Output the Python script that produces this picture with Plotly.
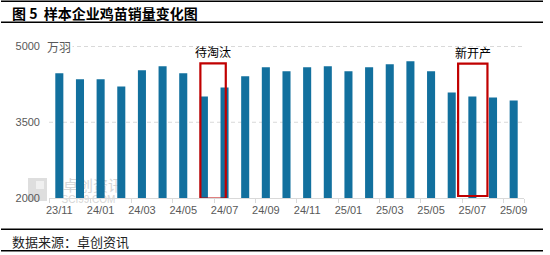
import plotly.graph_objects as go

months = ["23/11", "23/12", "24/01", "24/02", "24/03", "24/04", "24/05", "24/06",
          "24/07", "24/08", "24/09", "24/10", "24/11", "24/12", "25/01", "25/02",
          "25/03", "25/04", "25/05", "25/06", "25/07", "25/08", "25/09"]
sales = [4470, 4350, 4350, 4210, 4530, 4610, 4470, 4010, 4190, 4410, 4590, 4510,
         4590, 4610, 4510, 4590, 4650, 4710, 4510, 4090, 4010, 3990, 3930]
tick_labels = months[::2]
y_ticks = [2000, 3500, 5000]

WIDTH, HEIGHT = 550, 255
ML, MR, MT, MB = 49, 26, 46, 57
PW = WIDTH - ML - MR
PH = HEIGHT - MT - MB
Y0, Y1 = 2000, 5010


def px_x(px):
    return (px - ML) / PW


def px_y(py):
    return (HEIGHT - MB - py) / PH


BAR = "#12709E"
RED = "#C00000"
GREY = "#595959"
GRID = "#D9D9D9"
CJK = "Noto Sans CJK SC"

fig = go.Figure()
fig.add_trace(go.Bar(x=months, y=sales, marker=dict(color=BAR, line=dict(width=0)),
                     hoverinfo="skip"))

shapes = []
# dashed gridlines (drawn below bars)
for v in y_ticks[1:]:
    shapes.append(dict(type="line", xref="paper", yref="y", layer="below",
                       x0=0, x1=1, y0=v, y1=v,
                       line=dict(color=GRID, width=1, dash="4px,3px")))
# frame lines
for py in (1.3, 22.3, 229.3, 250.7):
    shapes.append(dict(type="line", xref="paper", yref="paper",
                       x0=px_x(1), x1=px_x(543), y0=px_y(py), y1=px_y(py),
                       line=dict(color="black", width=1.5)))
# highlight boxes
shapes.append(dict(type="rect", xref="x", yref="y", x0=6.83, x1=8.06, y0=1990, y1=4667,
                   line=dict(color=RED, width=2.2)))
shapes.append(dict(type="rect", xref="x", yref="y", x0=19.31, x1=20.73, y0=2040, y1=4661,
                   line=dict(color=RED, width=2.2)))
# watermark
shapes.append(dict(type="rect", xref="paper", yref="paper", layer="below",
                   x0=px_x(28), x1=px_x(47), y0=px_y(201), y1=px_y(178),
                   fillcolor="#DEDEDE", line=dict(width=0)))
shapes.append(dict(type="rect", xref="paper", yref="paper", layer="below",
                   x0=px_x(36), x1=px_x(44), y0=px_y(189), y1=px_y(181),
                   fillcolor="#F0F0F0", line=dict(width=0)))
shapes.append(dict(type="rect", xref="paper", yref="paper", layer="below",
                   x0=px_x(58), x1=px_x(128), y0=px_y(195), y1=px_y(178),
                   fillcolor="rgba(0,0,0,0)", line=dict(width=0),
                   label=dict(text="卓创资讯", font=dict(family=CJK, size=15, color="#D6D6D6"))))
shapes.append(dict(type="rect", xref="paper", yref="paper", layer="below",
                   x0=px_x(55), x1=px_x(122), y0=px_y(204), y1=px_y(193),
                   fillcolor="rgba(0,0,0,0)", line=dict(width=0),
                   label=dict(text="SCI99.COM", font=dict(family="Liberation Sans", size=10, color="#D6D6D6"))))

annotations = [
    dict(text="<b>图 5  样本企业鸡苗销量变化图</b>", xref="paper", yref="paper",
         x=px_x(10), y=px_y(13.5), xanchor="left", yanchor="middle", showarrow=False,
         font=dict(family=CJK, size=14, color="black")),
    dict(text="数据来源：卓创资讯", xref="paper", yref="paper",
         x=px_x(10), y=px_y(241.5), xanchor="left", yanchor="middle", showarrow=False,
         font=dict(family=CJK, size=13, color="#222222")),
    dict(text="万羽", xref="paper", yref="y", x=px_x(58.5), y=5000,
         xanchor="center", yanchor="middle", showarrow=False, bgcolor="white",
         font=dict(family=CJK, size=12, color=GREY)),
    dict(text="待淘汰", xref="x", yref="y", x=7.42, y=4906, showarrow=False,
         xanchor="center", yanchor="middle", font=dict(family=CJK, size=12, color="black")),
    dict(text="新开产", xref="x", yref="y", x=20.02, y=4886, showarrow=False,
         xanchor="center", yanchor="middle", font=dict(family=CJK, size=12, color="black")),
]

fig.update_layout(
    width=WIDTH, height=HEIGHT,
    margin=dict(l=ML, r=MR, t=MT, b=MB, pad=0),
    paper_bgcolor="white", plot_bgcolor="white",
    showlegend=False, bargap=0.61,
    shapes=shapes, annotations=annotations,
    xaxis=dict(type="category", range=[-0.5, 22.5], tickmode="array",
               tickvals=tick_labels, ticktext=tick_labels, tickangle=0,
               ticks="outside", tickson="boundaries", ticklen=4, tickcolor=GRID,
               showline=True, linecolor=GRID, linewidth=1, showgrid=False,
               ticklabelstandoff=2,
               tickfont=dict(family="Liberation Sans", size=11, color=GREY)),
    yaxis=dict(range=[Y0, Y1], tickvals=y_ticks, ticks="",
               showgrid=False, zeroline=False, showline=False, ticklabelstandoff=8,
               tickfont=dict(family="Liberation Sans", size=11, color=GREY)),
)

fig.write_html("out.html")
